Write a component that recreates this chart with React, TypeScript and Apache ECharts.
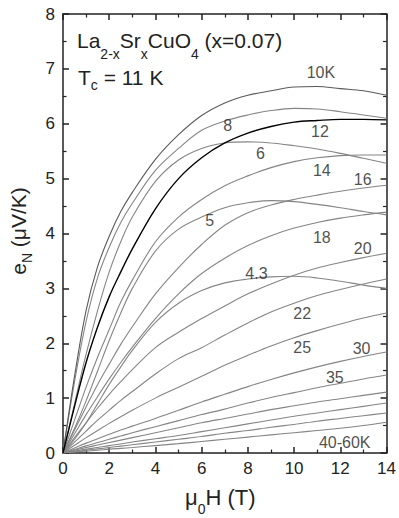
import React, { useEffect, useRef } from "react";
import * as echarts from "echarts";

const FONT = "'Liberation Sans', Arial, Helvetica, sans-serif";

// magnetic field (T)
const fieldT = [0, 0.5, 1, 1.5, 2, 2.5, 3, 4, 5, 6, 7, 8, 9, 10, 11, 12, 13, 14];

// Nernst signal e_N (µV/K) at each temperature
const t4p3 = [0, 0.25, 0.55, 0.9, 1.25, 1.57, 1.87, 2.38, 2.73, 2.96, 3.1, 3.17, 3.21, 3.22, 3.19, 3.13, 3.06, 3.0];
const t5 = [0, 0.45, 0.95, 1.5, 2.05, 2.55, 3.0, 3.68, 4.08, 4.3, 4.47, 4.56, 4.6, 4.58, 4.53, 4.47, 4.4, 4.34];
const t6 = [0, 0.9, 1.8, 2.6, 3.3, 3.85, 4.3, 4.95, 5.34, 5.55, 5.65, 5.67, 5.65, 5.6, 5.54, 5.46, 5.37, 5.28];
const t8 = [0, 1.3, 2.4, 3.2, 3.75, 4.2, 4.55, 5.15, 5.55, 5.88, 6.05, 6.16, 6.24, 6.28, 6.27, 6.22, 6.16, 6.1];
const t10 = [0, 1.4, 2.6, 3.4, 3.95, 4.4, 4.75, 5.35, 5.8, 6.15, 6.38, 6.52, 6.6, 6.67, 6.68, 6.64, 6.6, 6.52];
const t12 = [0, 0.85, 1.65, 2.3, 2.85, 3.3, 3.72, 4.45, 5.0, 5.38, 5.65, 5.83, 5.95, 6.03, 6.06, 6.08, 6.08, 6.07];
const t14 = [0, 0.6, 1.2, 1.75, 2.25, 2.75, 3.15, 3.85, 4.3, 4.62, 4.87, 5.05, 5.2, 5.31, 5.38, 5.42, 5.43, 5.43];
const t16 = [0, 0.42, 0.84, 1.25, 1.62, 1.98, 2.3, 2.9, 3.38, 3.8, 4.15, 4.38, 4.52, 4.62, 4.7, 4.77, 4.83, 4.88];
const t18 = [0, 0.35, 0.7, 1.03, 1.35, 1.65, 1.93, 2.45, 2.9, 3.27, 3.55, 3.78, 3.96, 4.1, 4.2, 4.28, 4.34, 4.39];
const t20 = [0, 0.28, 0.55, 0.82, 1.07, 1.3, 1.52, 1.92, 2.2, 2.45, 2.68, 2.9, 3.08, 3.24, 3.37, 3.47, 3.56, 3.64];
const t22 = [0, 0.2, 0.4, 0.6, 0.78, 0.96, 1.12, 1.44, 1.72, 1.92, 2.15, 2.37, 2.57, 2.73, 2.87, 2.98, 3.08, 3.17];
const t25 = [0, 0.14, 0.28, 0.41, 0.54, 0.66, 0.78, 1.0, 1.2, 1.4, 1.6, 1.78, 1.95, 2.1, 2.23, 2.35, 2.46, 2.55];
const t30 = [0, 0.09, 0.18, 0.26, 0.34, 0.42, 0.49, 0.63, 0.78, 0.93, 1.07, 1.21, 1.34, 1.46, 1.57, 1.67, 1.76, 1.84];
const t35 = [0, 0.065, 0.13, 0.19, 0.25, 0.31, 0.37, 0.48, 0.59, 0.7, 0.8, 0.91, 1.01, 1.1, 1.19, 1.27, 1.35, 1.42];
const t40 = [0, 0.05, 0.1, 0.145, 0.19, 0.235, 0.28, 0.37, 0.46, 0.55, 0.63, 0.71, 0.79, 0.86, 0.93, 0.99, 1.05, 1.11];
const t45 = [0, 0.035, 0.07, 0.1, 0.135, 0.165, 0.2, 0.26, 0.32, 0.39, 0.46, 0.53, 0.6, 0.67, 0.73, 0.79, 0.85, 0.91];
const t50 = [0, 0.025, 0.05, 0.075, 0.1, 0.125, 0.15, 0.2, 0.25, 0.3, 0.36, 0.41, 0.47, 0.52, 0.58, 0.63, 0.68, 0.73];
const t60 = [0, 0.018, 0.035, 0.05, 0.07, 0.085, 0.1, 0.135, 0.17, 0.21, 0.25, 0.29, 0.33, 0.37, 0.41, 0.45, 0.5, 0.56];

const temps = ["4.3K", "5K", "6K", "8K", "10K", "12K", "14K", "16K", "18K", "20K", "22K", "25K", "30K", "35K", "40K", "45K", "50K", "60K"];
const curveValues = [t4p3, t5, t6, t8, t10, t12, t14, t16, t18, t20, t22, t25, t30, t35, t40, t45, t50, t60];

// curve annotations (text, field, value)
const annText = ["10K", "8", "12", "6", "14", "16", "5", "18", "20", "4.3", "22", "25", "30", "35", "40-60K"];
const annField = [11.16, 7.13, 11.12, 8.54, 11.2, 12.97, 6.35, 11.2, 12.97, 8.37, 10.35, 10.35, 12.92, 11.76, 12.19];
const annValue = [6.94, 5.97, 5.85, 5.46, 5.15, 4.99, 4.23, 3.92, 3.73, 3.28, 2.55, 1.93, 1.91, 1.38, 0.2];

export default function App() {
  const ref = useRef<HTMLDivElement>(null);

  useEffect(() => {
    if (!ref.current) return;
    const chart = echarts.init(ref.current, undefined, { renderer: "svg" });

    const axisCommon = {
      type: "value",
      splitLine: { show: false },
      axisLine: { show: true, onZero: false, lineStyle: { color: "#222", width: 1.5 } },
      axisTick: { show: true, inside: true, length: 6, lineStyle: { color: "#222", width: 1.5 } },
      minorTick: { show: true, splitNumber: 2, length: 3.5, lineStyle: { color: "#222", width: 1.2 } },
    };
    const labelStyle = { fontSize: 17, color: "#222", fontFamily: FONT };

    const lineSeries = temps.map((name, i) => {
      const color = name === "12K" ? "#000" : name === "10K" ? "#5a5a5a" : "#858585";
      return {
        type: "line",
        name,
        data: fieldT.map((x, j) => [x, curveValues[i][j]]),
        showSymbol: false,
        symbol: "none",
        smooth: 0.35,
        lineStyle: { color, width: name === "12K" ? 1.4 : 1.1 },
        z: name === "12K" ? 5 : 2,
      };
    });

    const annSeries = {
      type: "scatter",
      symbolSize: 1,
      itemStyle: { color: "transparent" },
      data: annText.map((t, i) => [annField[i], annValue[i], t]),
      label: {
        show: true,
        position: "inside",
        formatter: (p: any) => p.data[2],
        fontSize: 16,
        color: "#222",
        fontFamily: FONT,
      },
      z: 10,
    };

    const sub = { fontSize: 14, lineHeight: 14, verticalAlign: "bottom", fontFamily: FONT, fill: "#222" };

    chart.setOption({
      animation: false,
      grid: { left: 63, right: 10, top: 14, bottom: 65 },
      xAxis: [
        { ...axisCommon, min: 0, max: 14, interval: 2, position: "bottom", axisLabel: { ...labelStyle, margin: 7 } },
        { ...axisCommon, min: 0, max: 14, interval: 2, position: "top", axisLabel: { show: false } },
      ],
      yAxis: [
        { ...axisCommon, min: 0, max: 8, interval: 1, position: "left", axisLabel: { ...labelStyle, margin: 8 } },
        { ...axisCommon, min: 0, max: 8, interval: 1, position: "right", axisLabel: { show: false } },
      ],
      series: [...lineSeries, annSeries],
      graphic: [
        {
          type: "text",
          x: 77,
          y: 20,
          style: {
            text: "{m|La}{s|2-x}{m|Sr}{s|x}{m|CuO}{s|4}{m| (x=0.07)}",
            rich: {
              m: { fontSize: 21, lineHeight: 41, fontFamily: FONT, fill: "#222" },
              s: sub,
            },
            fill: "#222",
            align: "left",
            verticalAlign: "top",
          },
        },
        {
          type: "text",
          x: 78,
          y: 62,
          style: {
            text: "{m|T}{s|c}{m| = 11 K}",
            rich: {
              m: { fontSize: 21, lineHeight: 30, fontFamily: FONT, fill: "#222" },
              s: sub,
            },
            fill: "#222",
            align: "left",
            verticalAlign: "top",
          },
        },
        {
          type: "text",
          x: 185,
          y: 478,
          style: {
            text: "{m|μ}{s|0}{m|H (T)}",
            rich: {
              m: { fontSize: 22, lineHeight: 38, fontFamily: FONT, fill: "#222" },
              s: sub,
            },
            fill: "#222",
            align: "left",
            verticalAlign: "top",
          },
        },
        {
          type: "text",
          x: 18,
          y: 231,
          rotation: Math.PI / 2,
          style: {
            text: "{m|e}{s|N}{m| (μV/K)}",
            rich: {
              m: { fontSize: 21, lineHeight: 32, fontFamily: FONT, fill: "#222" },
              s: sub,
            },
            fill: "#222",
            align: "center",
            verticalAlign: "middle",
          },
        },
      ],
    });

    return () => chart.dispose();
  }, []);

  return <div ref={ref} style={{ position: "absolute", left: 0, top: 0, width: 399, height: 518 }} />;
}
